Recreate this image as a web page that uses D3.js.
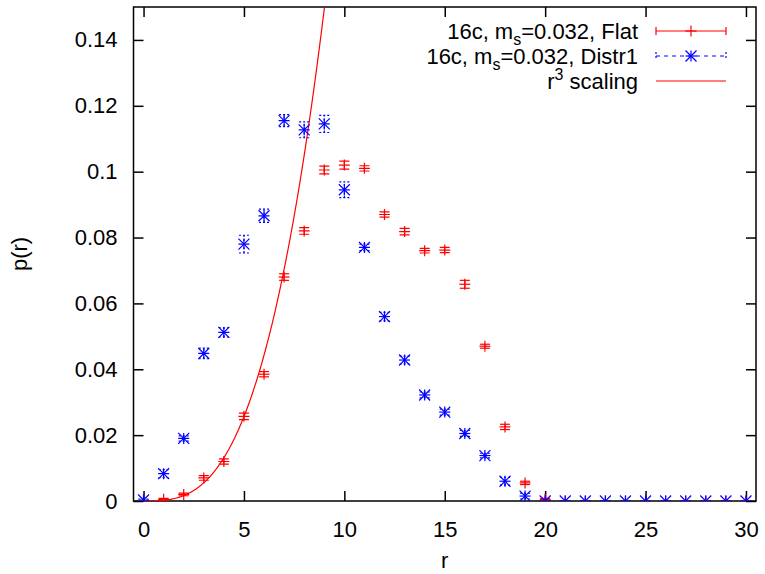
<!DOCTYPE html>
<html lang="en">
<head>
  <meta charset="UTF-8" />
  <title>p(r) distribution</title>
  <script src="https://d3js.org/d3.v7.min.js"></script>
  <style>
    body { margin: 0; background: #fff; }
    svg { display: block; font-family: "Liberation Sans", Arial, sans-serif; }
    .tick text { font-size: 22px; }
  </style>
</head>
<body>
<svg width="765" height="574"></svg>
<script>
  // data
  const radii = d3.range(0, 31);
  const flatVals = [0, 0.0005, 0.002, 0.007, 0.012, 0.0257, 0.0385, 0.068, 0.082, 0.1005, 0.102, 0.101,
    0.087, 0.0818, 0.076, 0.0762, 0.0658, 0.047, 0.0225, 0.0055, 0.0005,
    0, 0, 0, 0, 0, 0, 0, 0, 0, 0];
  const flatErr = [0, 0.0003, 0.0004, 0.0007, 0.0008, 0.001, 0.0008, 0.001, 0.001, 0.0012, 0.0012, 0.0008,
    0.0008, 0.001, 0.0007, 0.0008, 0.0012, 0.0006, 0.0008, 0.0005, 0.0003,
    0, 0, 0, 0, 0, 0, 0, 0, 0, 0];
  const distrVals = [0.0003, 0.0083, 0.019, 0.0448, 0.0512, 0.078, 0.0866, 0.1155, 0.1127, 0.1145, 0.0945,
    0.0770, 0.056, 0.0428, 0.0322, 0.027, 0.0205, 0.0138, 0.006, 0.0015,
    0, 0, 0, 0, 0, 0, 0, 0, 0, 0, 0];
  const distrErr = [0.0003, 0.0012, 0.0008, 0.0016, 0.0014, 0.0027, 0.002, 0.0018, 0.0024, 0.0026, 0.0024,
    0.001, 0.0013, 0.0012, 0.0009, 0.0009, 0.0009, 0.0007, 0.0012, 0.0009,
    0, 0, 0, 0, 0, 0, 0, 0, 0, 0, 0];
  const cubeCoef = 0.000205; // r^3 scaling prefactor
  const xTicks = [0, 5, 10, 15, 20, 25, 30];
  const yTicks = [0, 0.02, 0.04, 0.06, 0.08, 0.1, 0.12, 0.14];

  const svg = d3.select("svg");
  const margin = { left: 133.5, right: 9, top: 7, bottom: 73 };
  const W = 765, H = 574;

  const x = d3.scaleLinear().domain([-0.5, 30.5]).range([margin.left, W - margin.right]);
  const y = d3.scaleLinear().domain([0, 0.15]).range([H - margin.bottom, margin.top]);

  const clip = svg.append("clipPath").attr("id", "clip").append("rect")
    .attr("x", margin.left).attr("y", margin.top)
    .attr("width", W - margin.right - margin.left).attr("height", H - margin.bottom - margin.top);

  // axes with inward ticks (mirrored)
  const axB = svg.append("g").attr("transform", `translate(0,${y(0)})`)
    .call(d3.axisBottom(x).tickValues(xTicks).tickSize(-10).tickPadding(20).tickFormat(d3.format("d")));
  const axT = svg.append("g").attr("transform", `translate(0,${margin.top})`)
    .call(d3.axisTop(x).tickValues(xTicks).tickSize(-10).tickFormat(""));
  const axL = svg.append("g").attr("transform", `translate(${margin.left},0)`)
    .call(d3.axisLeft(y).tickValues(yTicks).tickSize(-10).tickPadding(16).tickFormat(d => d === 0 ? "0" : d3.format("~g")(d)));
  const axR = svg.append("g").attr("transform", `translate(${W - margin.right},0)`)
    .call(d3.axisRight(y).tickValues(yTicks).tickSize(-10).tickFormat(""));
  [axB, axT, axL, axR].forEach(a => {
    a.select(".domain").remove();
    a.selectAll(".tick line").attr("stroke", "#000").attr("stroke-width", 1.5);
    a.selectAll(".tick text").attr("fill", "#000").attr("font-family", "Liberation Sans, Arial, sans-serif");
  });

  svg.append("rect")
    .attr("x", margin.left).attr("y", margin.top)
    .attr("width", W - margin.right - margin.left).attr("height", H - margin.bottom - margin.top)
    .attr("fill", "none").attr("stroke", "#000").attr("stroke-width", 1.5);

  // axis labels
  svg.append("text").attr("x", x(15)).attr("y", 568).attr("text-anchor", "middle")
    .attr("font-size", 22).text("r");
  svg.append("text").attr("transform", `translate(27,${(margin.top + H - margin.bottom) / 2}) rotate(-90)`)
    .attr("text-anchor", "middle").attr("font-size", 22).text("p(r)");

  const plot = svg.append("g").attr("clip-path", "url(#clip)");

  // r^3 scaling curve
  const curveR = d3.range(0, 9.5, 0.05);
  plot.append("path").datum(curveR)
    .attr("fill", "none").attr("stroke", "#ff0000").attr("stroke-width", 1.2)
    .attr("d", d3.line().x(r => x(r)).y(r => y(cubeCoef * r * r * r)));

  function errorBars(vals, errs, color, dash) {
    const g = plot.append("g").attr("stroke", color).attr("stroke-width", 1.2).attr("fill", "none");
    radii.forEach((r, i) => {
      const cx = x(r), y0 = y(vals[i] - errs[i]), y1 = y(vals[i] + errs[i]);
      g.append("line").attr("x1", cx).attr("x2", cx).attr("y1", y0).attr("y2", y1).attr("stroke-dasharray", dash);
      [y0, y1].forEach(yy => g.append("line").attr("x1", cx - 5).attr("x2", cx + 5).attr("y1", yy).attr("y2", yy).attr("stroke-dasharray", dash));
    });
  }

  function plus(g, cx, cy, s) {
    g.append("line").attr("x1", cx - s).attr("x2", cx + s).attr("y1", cy).attr("y2", cy);
    g.append("line").attr("x1", cx).attr("x2", cx).attr("y1", cy - s).attr("y2", cy + s);
  }
  function star(g, cx, cy, s) {
    plus(g, cx, cy, s);
    g.append("line").attr("x1", cx - s).attr("x2", cx + s).attr("y1", cy - s).attr("y2", cy + s);
    g.append("line").attr("x1", cx - s).attr("x2", cx + s).attr("y1", cy + s).attr("y2", cy - s);
  }

  errorBars(flatVals, flatErr, "#ff0000", null);
  const flatG = plot.append("g").attr("stroke", "#ff0000").attr("stroke-width", 1.2);
  radii.forEach((r, i) => plus(flatG, x(r), y(flatVals[i]), 5.5));

  errorBars(distrVals, distrErr, "#0000ff", "2,2");
  const distrG = plot.append("g").attr("stroke", "#0000ff").attr("stroke-width", 1.2);
  radii.forEach((r, i) => star(distrG, x(r), y(distrVals[i]), 5.5));

  // legend
  const leg = svg.append("g");
  const rows = [31, 56, 81];
  const tx = 638, l0 = 656, l1 = 726, lm = (l0 + l1) / 2;

  const t1 = leg.append("text").attr("x", tx).attr("y", rows[0] + 8).attr("text-anchor", "end").attr("font-size", 22);
  t1.append("tspan").text("16c, m");
  t1.append("tspan").attr("font-size", 16).attr("dy", 6).text("s");
  t1.append("tspan").attr("dy", -6).text("=0.032, Flat");
  const t2 = leg.append("text").attr("x", tx).attr("y", rows[1] + 8).attr("text-anchor", "end").attr("font-size", 22);
  t2.append("tspan").text("16c, m");
  t2.append("tspan").attr("font-size", 16).attr("dy", 6).text("s");
  t2.append("tspan").attr("dy", -6).text("=0.032, Distr1");
  const t3 = leg.append("text").attr("x", tx).attr("y", rows[2] + 8).attr("text-anchor", "end").attr("font-size", 22);
  t3.append("tspan").text("r");
  t3.append("tspan").attr("font-size", 16).attr("dy", -9).text("3");
  t3.append("tspan").attr("dy", 9).text(" scaling");

  const lg1 = leg.append("g").attr("stroke", "#ff0000").attr("stroke-width", 1.2);
  lg1.append("line").attr("x1", l0).attr("x2", l1).attr("y1", rows[0]).attr("y2", rows[0]);
  [l0, l1].forEach(xx => lg1.append("line").attr("x1", xx).attr("x2", xx).attr("y1", rows[0] - 4).attr("y2", rows[0] + 4));
  plus(lg1, lm, rows[0], 5.5);

  const lg2 = leg.append("g").attr("stroke", "#0000ff").attr("stroke-width", 1.2);
  lg2.append("line").attr("x1", l0).attr("x2", l1).attr("y1", rows[1]).attr("y2", rows[1]).attr("stroke-dasharray", "4,4");
  [l0, l1].forEach(xx => lg2.append("line").attr("x1", xx).attr("x2", xx).attr("y1", rows[1] - 4).attr("y2", rows[1] + 4).attr("stroke-dasharray", "2,2"));
  star(lg2, lm, rows[1], 5.5);

  leg.append("line").attr("x1", l0).attr("x2", l1).attr("y1", rows[2]).attr("y2", rows[2])
    .attr("stroke", "#ff0000").attr("stroke-width", 1.2);
</script>
</body>
</html>
